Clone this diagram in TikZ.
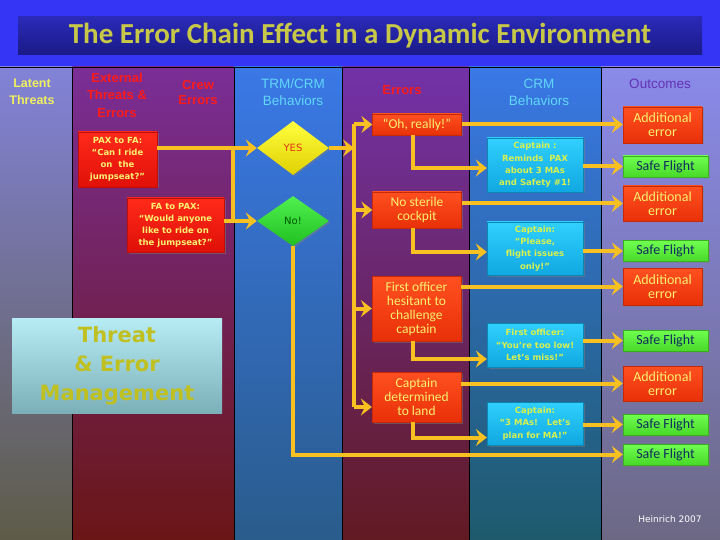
\documentclass[tikz,border=0pt]{standalone}
\usepackage{fontspec}
\setmainfont{Liberation Sans}
\newfontfamily\carl{Carlito}
\newfontfamily\dejav{DejaVu Sans}
\usetikzlibrary{shapes.geometric,arrows.meta,shadows,calc}
\definecolor{bgblue}{HTML}{3535F5}
\definecolor{titleT}{HTML}{2A2AB8}
\definecolor{titleB}{HTML}{1A1A88}
\definecolor{titletxt}{HTML}{C8C848}
\definecolor{c1T}{HTML}{8282D8}
\definecolor{c1B}{HTML}{5E5C48}
\definecolor{c2T}{HTML}{7A2E96}
\definecolor{c2B}{HTML}{6A1616}
\definecolor{c3T}{HTML}{3A78E6}
\definecolor{c3B}{HTML}{2A5C8C}
\definecolor{c4T}{HTML}{7232A8}
\definecolor{c4B}{HTML}{621A22}
\definecolor{c5T}{HTML}{3A78E6}
\definecolor{c5B}{HTML}{1E5A6C}
\definecolor{c6T}{HTML}{8A8AEA}
\definecolor{c6B}{HTML}{6C6884}
\definecolor{hdrYel}{HTML}{F0F060}
\definecolor{hdrRed}{HTML}{FF1A1A}
\definecolor{hdrCyan}{HTML}{60D8F8}
\definecolor{hdrPurp}{HTML}{6432B4}
\definecolor{redT}{HTML}{FF2A1A}
\definecolor{redB}{HTML}{E01008}
\definecolor{yeltxt}{HTML}{F8F070}
\definecolor{errT}{HTML}{FF5020}
\definecolor{errB}{HTML}{E83008}
\definecolor{cyT}{HTML}{30D0FF}
\definecolor{cyB}{HTML}{10A8E0}
\definecolor{cytxt}{HTML}{D8F050}
\definecolor{sfT}{HTML}{70FF50}
\definecolor{sfB}{HTML}{48D828}
\definecolor{sftxt}{HTML}{102C60}
\definecolor{gold}{HTML}{F8C020}
\definecolor{yesT}{HTML}{FFFF40}
\definecolor{yesB}{HTML}{E0D000}
\definecolor{noT}{HTML}{50F050}
\definecolor{noB}{HTML}{20C020}
\definecolor{temT}{HTML}{B8ECF4}
\definecolor{temB}{HTML}{7CB0B8}
\definecolor{temtxt}{HTML}{C0C020}
\begin{document}
\begin{tikzpicture}[x=1pt,y=-1pt,
  box/.style={rectangle, inner sep=1pt, align=center,
    drop shadow={shadow xshift=1.5pt,shadow yshift=-1.5pt,opacity=0.45}},
  redbox/.style={box, top color=redT, bottom color=redB, draw=redB!85!black, line width=0.3pt,
    text=yeltxt, font=\dejav\bfseries\fontsize{8.5}{12}\selectfont},
  errbox/.style={box, top color=errT, bottom color=errB, draw=errB!85!black, line width=0.3pt,
    text=yeltxt, font=\carl\fontsize{13.5}{14}\selectfont, minimum width=89pt},
  cybox/.style={box, top color=cyT, bottom color=cyB, draw=cyB!80!black, line width=0.3pt,
    text=cytxt, font=\dejav\bfseries\fontsize{8.5}{12.3}\selectfont, minimum width=96pt},
  aebox/.style={box, top color=errT, bottom color=errB, draw=errB!85!black, line width=0.3pt,
    text=yeltxt, font=\carl\fontsize{14}{14}\selectfont, minimum width=79pt},
  sfbox/.style={box, top color=sfT, bottom color=sfB, draw=sfB!80!black, line width=0.3pt,
    text=sftxt, font=\carl\fontsize{14}{14}\selectfont, minimum width=85pt, minimum height=21pt},
  dia/.style={diamond, inner sep=0pt, minimum width=72pt,
    drop shadow={shadow xshift=1.5pt,shadow yshift=-1.5pt,opacity=0.45},
    font=\dejav\fontsize{10}{12}\selectfont},
  hdr/.style={align=center, font=\fontsize{13.5}{17}\selectfont},
  conn/.style={draw=gold, line width=4pt},
  arr/.style={conn, -{Stealth[length=11pt,width=17pt,inset=4pt]}}
]
\useasboundingbox (0,0) rectangle (720,540);
% background
\fill[bgblue] (0,0) rectangle (720,67);
\node[top color=titleT, bottom color=titleB, minimum width=684pt, minimum height=38pt,
  text=titletxt, font=\carl\bfseries\fontsize{29}{30}\selectfont] (title) at (360,36)
  {The Error Chain Effect in a Dynamic Environment};
% columns
\fill[top color=c1T, bottom color=c1B] (0,67) rectangle (72,540);
\fill[top color=c2T, bottom color=c2B] (72,67) rectangle (234,540);
\fill[top color=c3T, bottom color=c3B] (234,67) rectangle (342,540);
\fill[top color=c4T, bottom color=c4B] (342,67) rectangle (469,540);
\fill[top color=c5T, bottom color=c5B] (469,67) rectangle (601,540);
\fill[top color=c6T, bottom color=c6B] (601,67) rectangle (720,540);
\foreach \xx in {72,234,342,469,601} \draw[black, line width=0.8pt] (\xx,67) -- (\xx,540);
\draw[black, line width=0.8pt] (0,67) -- (720,67);
% headers
\node[hdr, text=hdrYel, font=\bfseries\fontsize{12.5}{17}\selectfont] (h1) at (32,92) {Latent\\Threats};
\node[hdr, text=hdrRed, font=\bfseries\fontsize{13}{17.5}\selectfont] (h2) at (117,95) {External\\Threats \&\\Errors};
\node[hdr, text=hdrRed, font=\bfseries\fontsize{13}{15}\selectfont] (h3) at (198,93) {Crew\\Errors};
\node[hdr, text=hdrCyan] (h4) at (293,92) {TRM/CRM\\Behaviors};
\node[hdr, text=hdrRed, font=\bfseries\fontsize{13}{15}\selectfont] (h5) at (402,90) {Errors};
\node[hdr, text=hdrCyan] (h6) at (539,92) {CRM\\Behaviors};
\node[hdr, text=hdrPurp] (h7) at (660,84) {Outcomes};
% threat & error management
\node[top color=temT, bottom color=temB, minimum width=210pt, minimum height=95pt, align=center,
  text=temtxt, font=\dejav\bfseries\fontsize{21}{29}\selectfont] (tem) at (117,365.5)
  {Threat\\\& Error\\Management};
% external threats
\node[redbox, minimum width=79pt, minimum height=55pt] (pax) at (117.5,159.5)
  {PAX to FA:\\“Can I ride\\on\ \ the\\jumpseat?”};
\node[redbox, minimum width=97pt, minimum height=54pt] (fa) at (175.5,225)
  {FA to PAX:\\“Would anyone\\like to ride on\\the jumpseat?”};
% diamonds
\node[dia, top color=yesT, bottom color=yesB, minimum height=54pt, text=red!60!brown] (yes) at (293,148) {YES};
\node[dia, top color=noT, bottom color=noB, minimum height=50pt, text=green!35!black] (no) at (293,221) {No!};
% errors
\node[errbox, minimum height=21pt] (oh) at (417,124.5) {“Oh, really!”};
\node[errbox, minimum height=36pt] (nsc) at (417,210) {No sterile\\cockpit};
\node[errbox, minimum height=65pt] (foh) at (416.5,308.5) {First officer\\hesitant to\\challenge\\captain};
\node[errbox, minimum height=50pt] (cd) at (416.5,397) {Captain\\determined\\to land};
% CRM behaviours
\node[cybox, minimum height=54pt] (rem) at (535,165) {Captain :\\Reminds\ \ PAX\\about 3 MAs\\and Safety \#1!};
\node[cybox, minimum height=53pt] (pls) at (535,248.5) {Captain:\\“Please,\\flight issues\\only!”};
\node[cybox, minimum height=44pt] (fol) at (535,345) {First officer:\\“You’re too low!\\Let’s miss!”};
\node[cybox, minimum height=43pt] (mas) at (535,423.5) {Captain:\\“3 MAs!\ \ \ Let’s\\plan for MA!”};
% outcomes
\node[aebox, minimum height=36pt] (ae1) at (662.5,125) {Additional\\error};
\node[sfbox] (sf1) at (665.5,166.5) {Safe Flight};
\node[aebox, minimum height=35pt] (ae2) at (662.5,203.5) {Additional\\error};
\node[sfbox] (sf2) at (665.5,251) {Safe Flight};
\node[aebox, minimum height=37pt] (ae3) at (662.5,286.5) {Additional\\error};
\node[sfbox] (sf3) at (665.5,340.5) {Safe Flight};
\node[aebox, minimum height=35pt] (ae4) at (662.5,383.5) {Additional\\error};
\node[sfbox] (sf4) at (665.5,424.5) {Safe Flight};
\node[sfbox] (sf5) at (665.5,454.5) {Safe Flight};
\node[text=white, font=\dejav\fontsize{9}{10}\selectfont] (cred) at (670,519) {Heinrich 2007};
% connectors: threats to decisions
\coordinate (j) at (233,0);
\draw[arr] (yes.west -| pax.east) -- (yes.west);
\draw[conn] (j |- yes.west) -- (j |- no.west);
\draw[arr] (no.west -| fa.east) -- (no.west);
% YES to errors bus
\coordinate (bus) at (354,0);
\coordinate (cdin) at ($(cd.west)+(0,10)$);
\draw[conn] (bus |- oh.west) -- (bus |- cdin);
\draw[arr] (yes.east) -- (yes.east -| bus);
\draw[arr] (bus |- oh.west) -- (oh.west);
\draw[arr] (bus |- nsc.west) -- (nsc.west);
\draw[arr] (bus |- foh.west) -- (foh.west);
\draw[arr] (bus |- cdin) -- (cdin);
% No! to final safe flight
\draw[arr] (no.south) |- (sf5.west);
% errors to additional errors
\draw[arr] (oh.east) -- (oh.east -| ae1.west);
\draw[arr] (ae2.west -| nsc.east) -- (ae2.west);
\draw[arr] (ae3.west -| foh.east) -- (ae3.west);
\draw[arr] (ae4.west -| cd.east) -- (ae4.west);
% errors to CRM behaviours
\coordinate (remin) at ($(rem.west)+(0,3)$);
\coordinate (plsin) at ($(pls.west)+(0,3.5)$);
\coordinate (folin) at ($(fol.west)+(0,14)$);
\coordinate (masin) at ($(mas.west)+(0,14)$);
\draw[arr] ([xshift=-4pt]oh.south) |- (remin);
\draw[arr] ([xshift=-4pt]nsc.south) |- (plsin);
\draw[arr] ([xshift=-4pt]foh.south) |- (folin);
\draw[arr] ([xshift=-4pt]cd.south) |- (masin);
% CRM behaviours to safe flights
\draw[arr] (sf1.west -| rem.east) -- (sf1.west);
\draw[arr] (sf2.west -| pls.east) -- (sf2.west);
\draw[arr] (sf3.west -| fol.east) -- (sf3.west);
\draw[arr] (sf4.west -| mas.east) -- (sf4.west);
\end{tikzpicture}
\end{document}
